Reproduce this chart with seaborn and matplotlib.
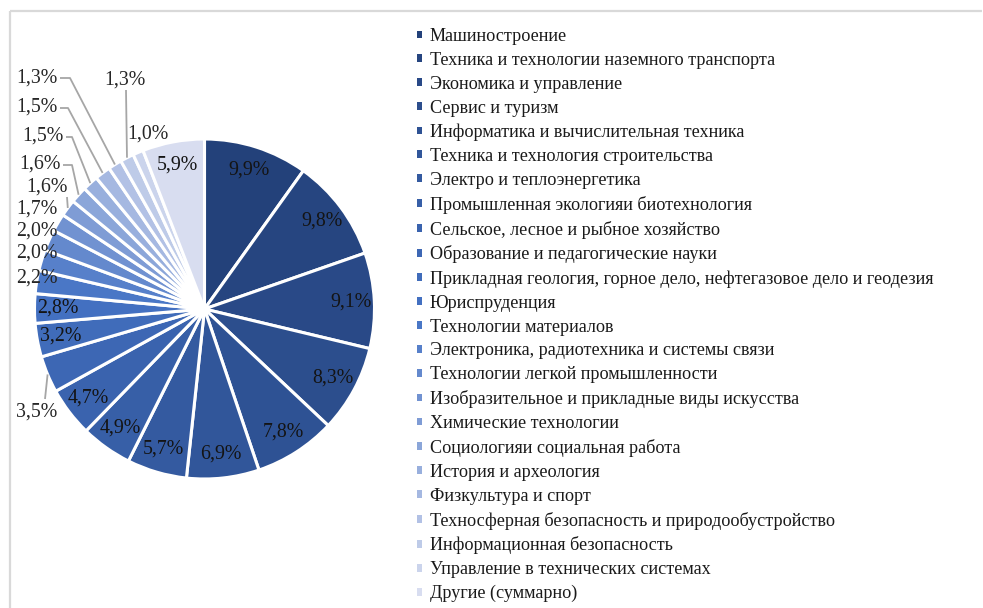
import numpy as np
import matplotlib
matplotlib.use("Agg")
import matplotlib.pyplot as plt
from matplotlib.patches import Patch
import seaborn as sns

categories = [
    "Машиностроение",
    "Техника и технологии наземного транспорта",
    "Экономика и управление",
    "Сервис и туризм",
    "Информатика и вычислительная техника",
    "Техника и технология строительства",
    "Электро и теплоэнергетика",
    "Промышленная экологияи биотехнология",
    "Сельское, лесное и рыбное хозяйство",
    "Образование и педагогические науки",
    "Прикладная геология, горное дело, нефтегазовое дело и геодезия",
    "Юриспруденция",
    "Технологии материалов",
    "Электроника, радиотехника и системы связи",
    "Технологии легкой промышленности",
    "Изобразительное и прикладные виды искусства",
    "Химические технологии",
    "Социологияи социальная работа",
    "История и археология",
    "Физкультура и спорт",
    "Техносферная безопасность и природообустройство",
    "Информационная безопасность",
    "Управление в технических системах",
    "Другие (суммарно)",
]
values = [9.9, 9.8, 9.1, 8.3, 7.8, 6.9, 5.7, 4.9, 4.7, 3.5, 3.2, 2.8,
          2.2, 2.0, 2.0, 1.7, 1.6, 1.6, 1.5, 1.5, 1.3, 1.3, 1.0, 5.9]
value_labels = [f"{v:.1f}%".replace(".", ",") for v in values]

W, H = 983, 608
sns.set_theme(style="white")
plt.rcParams["font.family"] = ["Liberation Serif", "DejaVu Serif"]

colors = sns.blend_palette(["#23417A", "#4472C4", "#D8DDF0"], len(values))

fig = plt.figure(figsize=(W / 100, H / 100), dpi=100)
ax = fig.add_axes([0, 0, 1, 1])

def Y(y):
    return H - y

cx, cy, R = 204.5, 309, 170
wedges, _ = ax.pie(values, colors=colors, startangle=90, counterclock=False,
                   center=(cx, Y(cy)), radius=R,
                   wedgeprops=dict(edgecolor="white", linewidth=2.2))
ax.set_xlim(0, W)
ax.set_ylim(0, H)
ax.set_aspect("equal")
ax.axis("off")

# label layout (pixel positions) for labels placed outside / at the rim
outside = {
    9: (37, 412), 12: (37, 278), 13: (37, 253), 14: (37, 231), 15: (37, 209),
    16: (47, 187), 17: (40, 164), 18: (43, 136), 19: (37, 107), 20: (37, 78),
    21: (125, 80), 22: (148, 134),
}
# leader elbows (pixel) : list of points after the rim point
leaders = {
    9: [(45, 399)],
    16: [(67, 197)],
    17: [(72, 165), (63, 165)],
    18: [(72, 137), (66, 137)],
    19: [(68, 108), (60, 108)],
    20: [(70, 78), (60, 78)],
    21: [(126, 90)],
}

total = sum(values)
cum = np.cumsum([0] + values)
fs = 14.3
for i, v in enumerate(values):
    mid = (cum[i] + v / 2) / total * 2 * np.pi
    dx, dy = np.sin(mid), np.cos(mid)
    if i in outside:
        tx, ty = outside[i]
        ax.text(tx, Y(ty), value_labels[i], ha="center", va="center",
                fontsize=fs, color="#262626")
        if i in leaders:
            pts = [(cx + R * dx, Y(cy) + R * dy)] + [(px, Y(py)) for px, py in leaders[i]]
            xs, ys = zip(*pts)
            ax.plot(xs, ys, color="#A6A6A6", lw=1.3, solid_capstyle="butt")
    else:
        r = 0.86 * R
        ax.text(cx + r * dx, Y(cy) + r * dy, value_labels[i], ha="center",
                va="center", fontsize=fs, color="#141414")

# frame lines
ax.plot([10, 10], [Y(11), 0], color="#D9D9D9", lw=1.6, solid_capstyle="butt")
ax.plot([10, 982], [Y(11), Y(11)], color="#D9D9D9", lw=1.6, solid_capstyle="butt")

handles = [Patch(facecolor=c, edgecolor="none") for c in colors]
leg = ax.legend(handles, categories, loc="upper left",
                bbox_to_anchor=(417 / W, 1 - 28 / H), frameon=False,
                fontsize=13.1, handlelength=0.28, handleheight=0.28,
                handletextpad=0.42, labelspacing=0.378, borderpad=0,
                borderaxespad=0)
for t in leg.get_texts():
    t.set_color("#1A1A1A")

fig.savefig("out.png", dpi=100)
